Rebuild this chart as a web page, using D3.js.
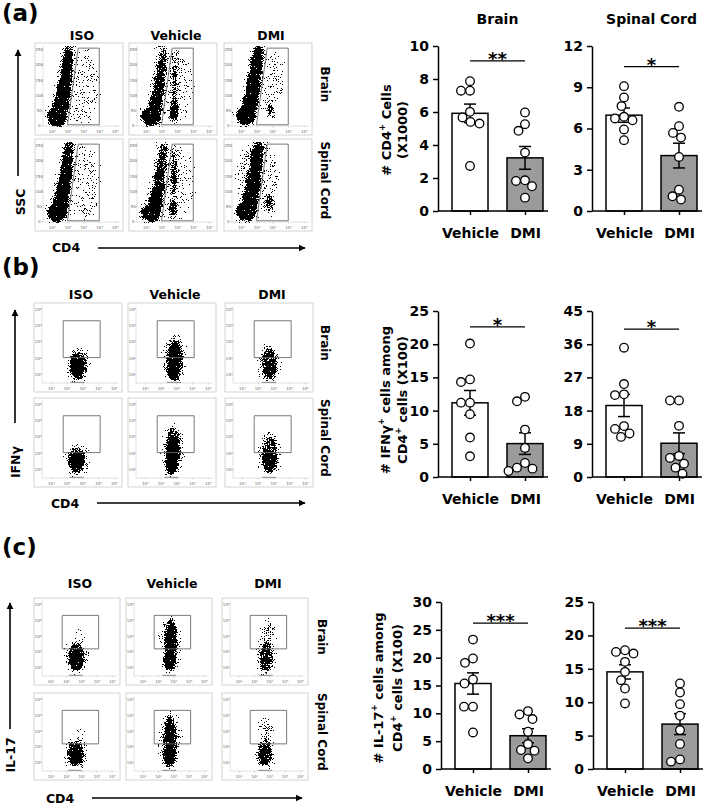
<!DOCTYPE html>
<html>
<head>
<meta charset="utf-8">
<script src="https://cdn.jsdelivr.net/npm/d3@7"></script>
<style>
body { margin: 0; background: #fff; }
text { font-family: "DejaVu Sans", Verdana, sans-serif; }
</style>
</head>
<body>
<svg id="fig" width="709" height="806"></svg>
<script>
// ---------- bar chart data ----------
const groups = ["Vehicle", "DMI"];

// (a) # CD4+ cells (X1000)
const cd4BrainTicks = [0, 2, 4, 6, 8, 10];
const cd4BrainMean = [5.92, 3.22];
const cd4BrainSem = [0.56, 0.69];
const cd4BrainVehicle = [7.87, 7.29, 7.29, 6.01, 5.40, 5.30, 5.67, 2.73];
const cd4BrainDMI = [5.97, 5.26, 4.86, 3.54, 1.82, 1.86, 1.50, 0.81];

const cd4SpinalTicks = [0, 3, 6, 9, 12];
const cd4SpinalMean = [6.97, 4.03];
const cd4SpinalSem = [0.52, 0.90];
const cd4SpinalVehicle = [9.08, 8.26, 7.63, 6.73, 6.85, 6.60, 5.93, 5.15];
const cd4SpinalDMI = [7.58, 6.17, 5.68, 5.34, 3.93, 1.55, 0.83, 1.07];

// (b) # IFNg+ cells among CD4+ cells (X100)
const ifngBrainTicks = [0, 5, 10, 15, 20, 25];
const ifngBrainMean = [11.17, 5.03];
const ifngBrainSem = [1.86, 1.63];
const ifngBrainVehicle = [20.1, 14.3, 14.7, 11.2, 11.2, 9.46, 5.94, 3.12];
const ifngBrainDMI = [12.07, 11.4, 7.14, 4.38, 1.41, 0.9, 1.26, 2.11];

const ifngSpinalTicks = [0, 9, 18, 27, 36, 45];
const ifngSpinalMean = [19.38, 9.15];
const ifngSpinalSem = [3.0, 2.81];
const ifngSpinalVehicle = [35.05, 25.2, 22.4, 22.2, 13.04, 10.87, 11.8, 13.8];
const ifngSpinalDMI = [20.74, 20.74, 13.86, 5.16, 3.6, 5.7, 2.54, 0.9];

// (c) # IL-17+ cells among CD4+ cells (X100)
const il17BrainTicks = [0, 5, 10, 15, 20, 25, 30];
const il17BrainMean = [15.36, 5.98];
const il17BrainSem = [1.91, 1.26];
const il17BrainVehicle = [23.25, 19.85, 19.07, 15.36, 16.08, 11.2, 11.2, 6.57];
const il17BrainDMI = [9.8, 8.97, 10.4, 6.69, 4.48, 3.41, 3.3, 1.91];

const il17SpinalTicks = [0, 5, 10, 15, 20, 25];
const il17SpinalMean = [14.54, 6.72];
const il17SpinalSem = [1.07, 1.57];
const il17SpinalVehicle = [17.53, 17.28, 17.78, 16.04, 14.54, 13.3, 12.05, 9.81];
const il17SpinalDMI = [12.8, 11.45, 9.71, 7.97, 5.83, 3.74, 1.1, 1.44];

// significance marks and the value level of their bracket
const sigMarks = ["**", "*", "*", "*", "***", "***"];
const sigLevels = [9.1, 10.5, 22.6, 40.1, 26.2, 21.1];

// ---------- flow cytometry data ----------
const sscTicks = [0, 50, 100, 150, 200, 250];
const decadeTicks = [1, 2, 3, 4, 5];
const supDigits = ["\u2070", "\u00b9", "\u00b2", "\u00b3", "\u2074", "\u2075"];

// gates: [log10 CD4, y value]
const aGate = [[1.96, 4], [2.64, 255], [3.98, 255], [3.98, 4]];
const bGate = [[1.75, 2.05], [4.1, 2.05], [4.1, 4.3], [1.75, 4.3]];
const cGate = [[1.72, 2.2], [4.1, 2.2], [4.1, 4.3], [1.72, 4.3]];

// event clouds: [log10 CD4, y centre, x spread (decades), y spread, density]
const aIsoBrain = [[1.3, 30, 0.6, 30, 1], [1.55, 70, 0.45, 35, 1], [1.7, 115, 0.4, 35, 0.9],
  [1.85, 160, 0.36, 35, 0.8], [1.95, 205, 0.33, 35, 0.7], [2.05, 245, 0.3, 25, 0.6], [2.8, 130, 1.2, 120, 0.1]];
const aVehBrain = [[1.3, 30, 0.6, 28, 0.9], [1.6, 75, 0.42, 35, 0.75], [1.8, 130, 0.37, 40, 0.6],
  [1.95, 190, 0.33, 40, 0.5], [2.05, 240, 0.3, 25, 0.45], [2.75, 50, 0.22, 35, 0.75], [2.8, 150, 0.25, 90, 0.35], [2.8, 130, 1.2, 120, 0.08]];
const aDmiBrain = [[1.3, 35, 0.6, 30, 1], [1.55, 75, 0.45, 35, 0.95], [1.75, 130, 0.42, 45, 0.9],
  [1.95, 200, 0.37, 45, 0.8], [2.1, 245, 0.32, 20, 0.7], [2.85, 55, 0.15, 25, 0.65], [2.6, 150, 1.1, 110, 0.1]];
const aIsoSpinal = [[1.3, 30, 0.6, 30, 1], [1.55, 70, 0.45, 35, 1], [1.7, 115, 0.4, 35, 0.9],
  [1.85, 160, 0.36, 35, 0.8], [1.95, 205, 0.33, 35, 0.7], [2.05, 245, 0.3, 25, 0.6], [2.8, 130, 1.2, 120, 0.1]];
const aVehSpinal = [[1.3, 30, 0.6, 28, 0.9], [1.6, 75, 0.42, 35, 0.75], [1.8, 130, 0.37, 40, 0.6],
  [1.95, 190, 0.33, 40, 0.5], [2.05, 240, 0.3, 25, 0.45], [2.7, 45, 0.2, 25, 0.8], [2.75, 160, 0.25, 90, 0.4], [2.8, 130, 1.2, 120, 0.08]];
const aDmiSpinal = [[1.3, 35, 0.6, 30, 1], [1.55, 75, 0.45, 35, 0.9], [1.75, 130, 0.42, 45, 0.8],
  [1.95, 200, 0.37, 45, 0.7], [2.1, 245, 0.32, 20, 0.6], [2.8, 60, 0.25, 30, 0.55], [2.0, 150, 1.3, 110, 0.15]];

const bIsoBrain = [[2.65, 1.4, 0.32, 0.55, 1], [2.7, 1.6, 0.6, 0.9, 0.5]];
const bVehBrain = [[2.8, 1.3, 0.3, 0.55, 1], [2.85, 2.1, 0.35, 0.8, 0.75], [2.85, 1.9, 0.6, 1.4, 0.4]];
const bDmiBrain = [[2.7, 1.7, 0.55, 1.0, 0.5], [2.75, 1.4, 0.3, 0.5, 0.3]];
const bIsoSpinal = [[2.6, 1.5, 0.32, 0.5, 1], [2.6, 1.6, 0.6, 0.85, 0.5]];
const bVehSpinal = [[2.65, 1.3, 0.3, 0.55, 1], [2.75, 2.3, 0.32, 0.9, 0.8], [2.75, 2.2, 0.55, 1.5, 0.4]];
const bDmiSpinal = [[2.7, 1.5, 0.35, 0.6, 0.75], [2.75, 2.0, 0.6, 1.2, 0.4]];

const cIsoBrain = [[2.6, 1.5, 0.32, 0.6, 1], [2.65, 1.7, 0.6, 0.9, 0.5], [2.9, 2.8, 0.3, 0.6, 0.1]];
const cVehBrain = [[2.7, 1.4, 0.32, 0.55, 1], [2.8, 2.5, 0.32, 0.7, 0.7], [2.8, 3.5, 0.3, 0.6, 0.5], [2.8, 2.4, 0.6, 1.6, 0.3]];
const cDmiBrain = [[2.75, 1.6, 0.5, 0.9, 0.5], [2.85, 3.0, 0.35, 0.9, 0.3]];
const cIsoSpinal = [[2.55, 1.5, 0.32, 0.55, 1], [2.6, 1.6, 0.6, 0.85, 0.5], [2.9, 2.8, 0.3, 0.5, 0.1]];
const cVehSpinal = [[2.7, 1.4, 0.32, 0.6, 1], [2.75, 2.6, 0.32, 0.8, 0.6], [2.75, 3.5, 0.28, 0.6, 0.4], [2.75, 2.4, 0.6, 1.6, 0.3]];
const cDmiSpinal = [[2.7, 1.6, 0.5, 0.8, 0.6], [2.8, 3.0, 0.35, 0.8, 0.3]];

const columns = ["ISO", "Vehicle", "DMI"];
const tissues = ["Brain", "Spinal Cord"];

// ---------- svg + defs ----------
const svg = d3.select("#fig");
const defs = svg.append("defs");

defs.append("marker").attr("id", "arrow")
  .attr("viewBox", "0 0 10 10").attr("refX", 9).attr("refY", 5)
  .attr("markerWidth", 4.5).attr("markerHeight", 4.5).attr("orient", "auto")
  .append("path").attr("d", "M0,0L10,5L0,10Z").attr("fill", "#000");

// speckle filter: turns soft density shapes into dotted event clouds
const sp = defs.append("filter").attr("id", "speck")
  .attr("x", "-20%").attr("y", "-20%").attr("width", "140%").attr("height", "140%")
  .attr("color-interpolation-filters", "sRGB");
sp.append("feGaussianBlur").attr("in", "SourceAlpha").attr("stdDeviation", 2.1).attr("result", "blur");
sp.append("feComponentTransfer").attr("in", "blur").attr("result", "dens")
  .append("feFuncA").attr("type", "linear").attr("slope", 1.5).attr("intercept", 0);
sp.append("feTurbulence").attr("type", "fractalNoise").attr("baseFrequency", 1.5)
  .attr("numOctaves", 2).attr("seed", 7).attr("result", "turb");
sp.append("feColorMatrix").attr("in", "turb").attr("type", "matrix")
  .attr("values", "0 0 0 0 0  0 0 0 0 0  0 0 0 0 0  2.2 0 0 0 -0.6").attr("result", "noise");
sp.append("feComposite").attr("in", "dens").attr("in2", "noise").attr("operator", "arithmetic")
  .attr("k1", 0).attr("k2", 1).attr("k3", -1).attr("k4", 0.49).attr("result", "diff");
const ct = sp.append("feComponentTransfer").attr("in", "diff");
["feFuncR", "feFuncG", "feFuncB"].forEach(fn => ct.append(fn).attr("type", "linear").attr("slope", 0).attr("intercept", 0));
ct.append("feFuncA").attr("type", "discrete").attr("tableValues", "0 1");

let clipCount = 0;

// ---------- flow plots ----------
function flowPlot(fx, fy, fw, fh, ssc, cloud, gate) {
  const g = svg.append("g");
  const left = fx + 8, right = fx + fw - 3, top = fy + 3, bottom = fy + fh - 9;
  const x = d3.scaleLinear().domain([0.4, 5.3]).range([left, right]);
  const y = ssc ? d3.scaleLinear().domain([0, 262]).range([bottom, top])
                : d3.scaleLinear().domain([0.5, 5.2]).range([bottom, top]);

  g.append("rect").attr("x", fx).attr("y", fy).attr("width", fw).attr("height", fh)
    .attr("fill", "none").attr("stroke", "#c9c9c9").attr("stroke-width", 0.8);
  g.append("path").attr("d", `M${left},${top}V${bottom}H${right}`)
    .attr("fill", "none").attr("stroke", "#cfcfcf").attr("stroke-width", 0.6);

  const cid = "clip" + (clipCount++);
  defs.append("clipPath").attr("id", cid).append("rect")
    .attr("x", left).attr("y", top).attr("width", right - left).attr("height", bottom - top + 1);

  const cg = g.append("g").attr("clip-path", `url(#${cid})`)
    .append("g").attr("filter", "url(#speck)");
  cg.selectAll("ellipse").data(cloud).join("ellipse")
    .attr("cx", d => x(d[0])).attr("cy", d => y(d[1]))
    .attr("rx", d => x(d[0] + d[2]) - x(d[0]))
    .attr("ry", d => y(d[1] - d[3]) - y(d[1]))
    .attr("fill", "#000").attr("fill-opacity", d => d[4]);

  if (!ssc) {
    // pile-up of events on the axis
    g.append("line")
      .attr("x1", x(cloud[0][0] - 0.45)).attr("x2", x(cloud[0][0] + 0.45))
      .attr("y1", bottom - 0.6).attr("y2", bottom - 0.6)
      .attr("stroke", "#9a9a9a").attr("stroke-width", 1.2);
  }

  g.append("path")
    .attr("d", d3.line()(gate.map(p => [x(p[0]), y(p[1])])) + "Z")
    .attr("fill", "none").attr("stroke", "#6a6a6a").attr("stroke-width", 0.9);

  // tiny tick labels
  g.selectAll(".xt").data(decadeTicks).join("text")
    .attr("x", d => x(d)).attr("y", fy + fh - 2.5)
    .attr("text-anchor", "middle").attr("font-size", 4).attr("fill", "#666")
    .text(d => "10" + supDigits[d]);
  g.selectAll(".xm").data(decadeTicks).join("line")
    .attr("x1", d => x(d)).attr("x2", d => x(d)).attr("y1", bottom).attr("y2", bottom + 1.5)
    .attr("stroke", "#aaa").attr("stroke-width", 0.5);
  const yt = ssc ? sscTicks : decadeTicks;
  g.selectAll(".yt").data(yt).join("text")
    .attr("x", fx + 4.2).attr("y", d => y(d) + 1.4)
    .attr("text-anchor", "middle").attr("font-size", 4).attr("fill", "#666")
    .text(d => ssc ? d : "10" + supDigits[d]);
  g.selectAll(".ym").data(yt).join("line")
    .attr("x1", left - 1.5).attr("x2", left).attr("y1", d => y(d)).attr("y2", d => y(d))
    .attr("stroke", "#aaa").attr("stroke-width", 0.5);
}

function flowPanel(p) {
  svg.append("text").attr("x", 2).attr("y", p.labelY)
    .attr("font-size", 23).attr("font-weight", "bold").text(p.label);

  columns.forEach((c, i) => {
    svg.append("text").attr("x", p.fx[i] + p.fw / 2 + 3).attr("y", p.headerY)
      .attr("text-anchor", "middle").attr("font-size", 12.5).attr("font-weight", "bold").text(c);
  });
  tissues.forEach((t, j) => {
    const cy = p.fy[j] + (p.fh - 9) / 2;
    svg.append("text").attr("transform", `translate(${p.rowLabelX},${cy}) rotate(90)`)
      .attr("text-anchor", "middle").attr("dominant-baseline", "central")
      .attr("font-size", 12).attr("font-weight", "bold").text(t);
    columns.forEach((c, i) => {
      flowPlot(p.fx[i], p.fy[j], p.fw, p.fh, p.ssc, p.clouds[j][i], p.gate);
    });
  });

  // axis arrows
  svg.append("line").attr("x1", p.yArrowX).attr("x2", p.yArrowX)
    .attr("y1", p.yArrow[0]).attr("y2", p.yArrow[1])
    .attr("stroke", "#000").attr("stroke-width", 1.6).attr("marker-end", "url(#arrow)");
  svg.append("text").attr("transform", `translate(${p.yTitle[0]},${p.yTitle[1]}) rotate(-90)`)
    .attr("text-anchor", "middle").attr("dominant-baseline", "central")
    .attr("font-size", 12.5).attr("font-weight", "bold").text(p.yLabel);
  svg.append("line").attr("x1", p.xArrow[0]).attr("x2", p.xArrow[1])
    .attr("y1", p.xArrowY).attr("y2", p.xArrowY)
    .attr("stroke", "#000").attr("stroke-width", 1.6).attr("marker-end", "url(#arrow)");
  svg.append("text").attr("x", p.xTitle[0]).attr("y", p.xTitle[1])
    .attr("text-anchor", "middle").attr("dominant-baseline", "central")
    .attr("font-size", 12.5).attr("font-weight", "bold").text("CD4");
}

flowPanel({
  label: "(a)", labelY: 21, headerY: 39.5,
  fx: [35, 129, 224], fy: [43, 139], fw: 88, fh: 92, ssc: true, gate: aGate,
  clouds: [[aIsoBrain, aVehBrain, aDmiBrain], [aIsoSpinal, aVehSpinal, aDmiSpinal]],
  rowLabelX: 325, yArrowX: 18, yArrow: [176, 50], yTitle: [20, 202], yLabel: "SSC",
  xArrow: [98, 305], xArrowY: 248, xTitle: [66, 247]
});
flowPanel({
  label: "(b)", labelY: 275, headerY: 298.5,
  fx: [34, 128, 225], fy: [303, 398], fw: 88, fh: 89, ssc: false, gate: bGate,
  clouds: [[bIsoBrain, bVehBrain, bDmiBrain], [bIsoSpinal, bVehSpinal, bDmiSpinal]],
  rowLabelX: 325, yArrowX: 15, yArrow: [423, 310], yTitle: [15, 462], yLabel: "IFN\u03b3",
  xArrow: [97, 305], xArrowY: 503, xTitle: [65, 503]
});
flowPanel({
  label: "(c)", labelY: 555, headerY: 587.5,
  fx: [34, 126, 222], fy: [598, 693], fw: 86, fh: 87, ssc: false, gate: cGate,
  clouds: [[cIsoBrain, cVehBrain, cDmiBrain], [cIsoSpinal, cVehSpinal, cDmiSpinal]],
  rowLabelX: 322, yArrowX: 10, yArrow: [729, 603], yTitle: [10, 755], yLabel: "IL-17",
  xArrow: [92, 302], xArrowY: 798, xTitle: [60, 798]
});

// ---------- bar charts ----------
const pointR = 4.3;

// simple beeswarm: each point takes the nearest free horizontal slot
function dodge(values, y, cx) {
  const pts = values.map(v => ({ v, py: y(v) })).sort((a, b) => a.py - b.py);
  const placed = [];
  const minD = 2 * pointR + 0.4;
  pts.forEach(p => {
    p.px = cx;
    for (let k = 0; k < 400; k++) {
      const px = cx + (k % 2 ? -1 : 1) * Math.ceil(k / 2) * 0.5;
      if (placed.every(q => (q.px - px) ** 2 + (q.py - p.py) ** 2 >= minD * minD)) { p.px = px; break; }
    }
    placed.push(p);
  });
  return pts;
}

function barChart(axisX, top, bottom, ticks, means, sems, vehPts, dmiPts, sig, sigLevel, title) {
  const g = svg.append("g");
  const y = d3.scaleLinear().domain([0, ticks[ticks.length - 1]]).range([bottom, top]);
  const x = d3.scalePoint().domain(groups).range([axisX + 32, axisX + 87]);

  if (title) {
    g.append("text").attr("x", (x("Vehicle") + x("DMI")) / 2).attr("y", 24)
      .attr("text-anchor", "middle").attr("font-size", 14).attr("font-weight", "bold").text(title);
  }

  g.selectAll("rect.bar").data(groups).join("rect").attr("class", "bar")
    .attr("x", d => x(d) - 18).attr("width", 36)
    .attr("y", (d, i) => y(means[i])).attr("height", (d, i) => bottom - y(means[i]))
    .attr("fill", (d, i) => i === 0 ? "#fff" : "#9b9b9b")
    .attr("stroke", "#000").attr("stroke-width", 1.5);

  const err = g.selectAll("g.err").data(groups).join("g").attr("class", "err")
    .attr("stroke", "#000").attr("stroke-width", 1.5);
  err.append("line").attr("x1", d => x(d)).attr("x2", d => x(d))
    .attr("y1", (d, i) => y(means[i] - sems[i])).attr("y2", (d, i) => y(means[i] + sems[i]));
  [-1, 1].forEach(s => {
    err.append("line").attr("x1", d => x(d) - 6).attr("x2", d => x(d) + 6)
      .attr("y1", (d, i) => y(means[i] + s * sems[i])).attr("y2", (d, i) => y(means[i] + s * sems[i]));
  });

  [vehPts, dmiPts].forEach((vals, i) => {
    g.append("g").selectAll("circle").data(dodge(vals, y, x(groups[i]))).join("circle")
      .attr("cx", d => d.px).attr("cy", d => d.py).attr("r", pointR)
      .attr("fill", "#fff").attr("stroke", "#000").attr("stroke-width", 1.3);
  });

  const yAxis = g.append("g").attr("transform", `translate(${axisX},0)`)
    .call(d3.axisLeft(y).tickValues(ticks).tickSize(5).tickSizeOuter(0).tickPadding(4));
  yAxis.select(".domain").attr("stroke-width", 1.5);
  yAxis.selectAll(".tick line").attr("stroke-width", 1.5);
  yAxis.selectAll("text").attr("font-size", 14).attr("font-weight", "bold")
    .attr("font-family", "DejaVu Sans, Verdana, sans-serif").attr("fill", "#000");

  g.append("line").attr("x1", axisX).attr("x2", axisX + 110).attr("y1", bottom).attr("y2", bottom)
    .attr("stroke", "#000").attr("stroke-width", 1.5);
  const xAxis = g.append("g").attr("transform", `translate(0,${bottom})`)
    .call(d3.axisBottom(x).tickSize(4).tickPadding(13));
  xAxis.select(".domain").remove();
  xAxis.selectAll(".tick line").attr("stroke-width", 1.5);
  xAxis.selectAll("text").attr("font-size", 14).attr("font-weight", "bold")
    .attr("font-family", "DejaVu Sans, Verdana, sans-serif").attr("fill", "#000");

  const sy = y(sigLevel);
  g.append("line").attr("x1", x("Vehicle")).attr("x2", x("DMI")).attr("y1", sy).attr("y2", sy)
    .attr("stroke", "#000").attr("stroke-width", 1.2);
  g.append("text").attr("x", (x("Vehicle") + x("DMI")) / 2).attr("y", sy + 4)
    .attr("text-anchor", "middle").attr("font-size", 18).attr("font-weight", "bold").text(sig);
}

function yLabel(cx1, cx2, cy, line1, sup1, rest1, line2) {
  const t1 = svg.append("text").attr("transform", `translate(${cx1},${cy}) rotate(-90)`)
    .attr("text-anchor", "middle").attr("dominant-baseline", "central")
    .attr("font-size", 13).attr("font-weight", "bold");
  t1.append("tspan").text(line1);
  t1.append("tspan").attr("font-size", 8.5).attr("dy", -4.5).text(sup1);
  t1.append("tspan").attr("dy", 4.5).text(rest1);
  const t2 = svg.append("text").attr("transform", `translate(${cx2},${cy}) rotate(-90)`)
    .attr("text-anchor", "middle").attr("dominant-baseline", "central")
    .attr("font-size", 13).attr("font-weight", "bold");
  line2.forEach(part => {
    if (part.sup) t2.append("tspan").attr("font-size", 8.5).attr("dy", -4.5).text(part.t);
    else t2.append("tspan").attr("dy", part.after ? 4.5 : 0).text(part.t);
  });
}

barChart(438, 46, 211, cd4BrainTicks, cd4BrainMean, cd4BrainSem, cd4BrainVehicle, cd4BrainDMI, sigMarks[0], sigLevels[0], "Brain");
barChart(592, 46, 211, cd4SpinalTicks, cd4SpinalMean, cd4SpinalSem, cd4SpinalVehicle, cd4SpinalDMI, sigMarks[1], sigLevels[1], "Spinal Cord");
barChart(438, 311, 477, ifngBrainTicks, ifngBrainMean, ifngBrainSem, ifngBrainVehicle, ifngBrainDMI, sigMarks[2], sigLevels[2]);
barChart(592, 311, 477, ifngSpinalTicks, ifngSpinalMean, ifngSpinalSem, ifngSpinalVehicle, ifngSpinalDMI, sigMarks[3], sigLevels[3]);
barChart(441, 602, 769, il17BrainTicks, il17BrainMean, il17BrainSem, il17BrainVehicle, il17BrainDMI, sigMarks[4], sigLevels[4]);
barChart(593, 602, 769, il17SpinalTicks, il17SpinalMean, il17SpinalSem, il17SpinalVehicle, il17SpinalDMI, sigMarks[5], sigLevels[5]);

yLabel(386, 402, 130, "# CD4", "+", " Cells", [{ t: "(X1000)" }]);
yLabel(385, 402, 400, "# IFN\u03b3", "+", " cells among",
  [{ t: "CD4" }, { t: "+", sup: true }, { t: " cells (X100)", after: true }]);
yLabel(378, 397, 688, "# IL-17", "+", " cells among",
  [{ t: "CD4" }, { t: "+", sup: true }, { t: " cells (X100)", after: true }]);
</script>
</body>
</html>
